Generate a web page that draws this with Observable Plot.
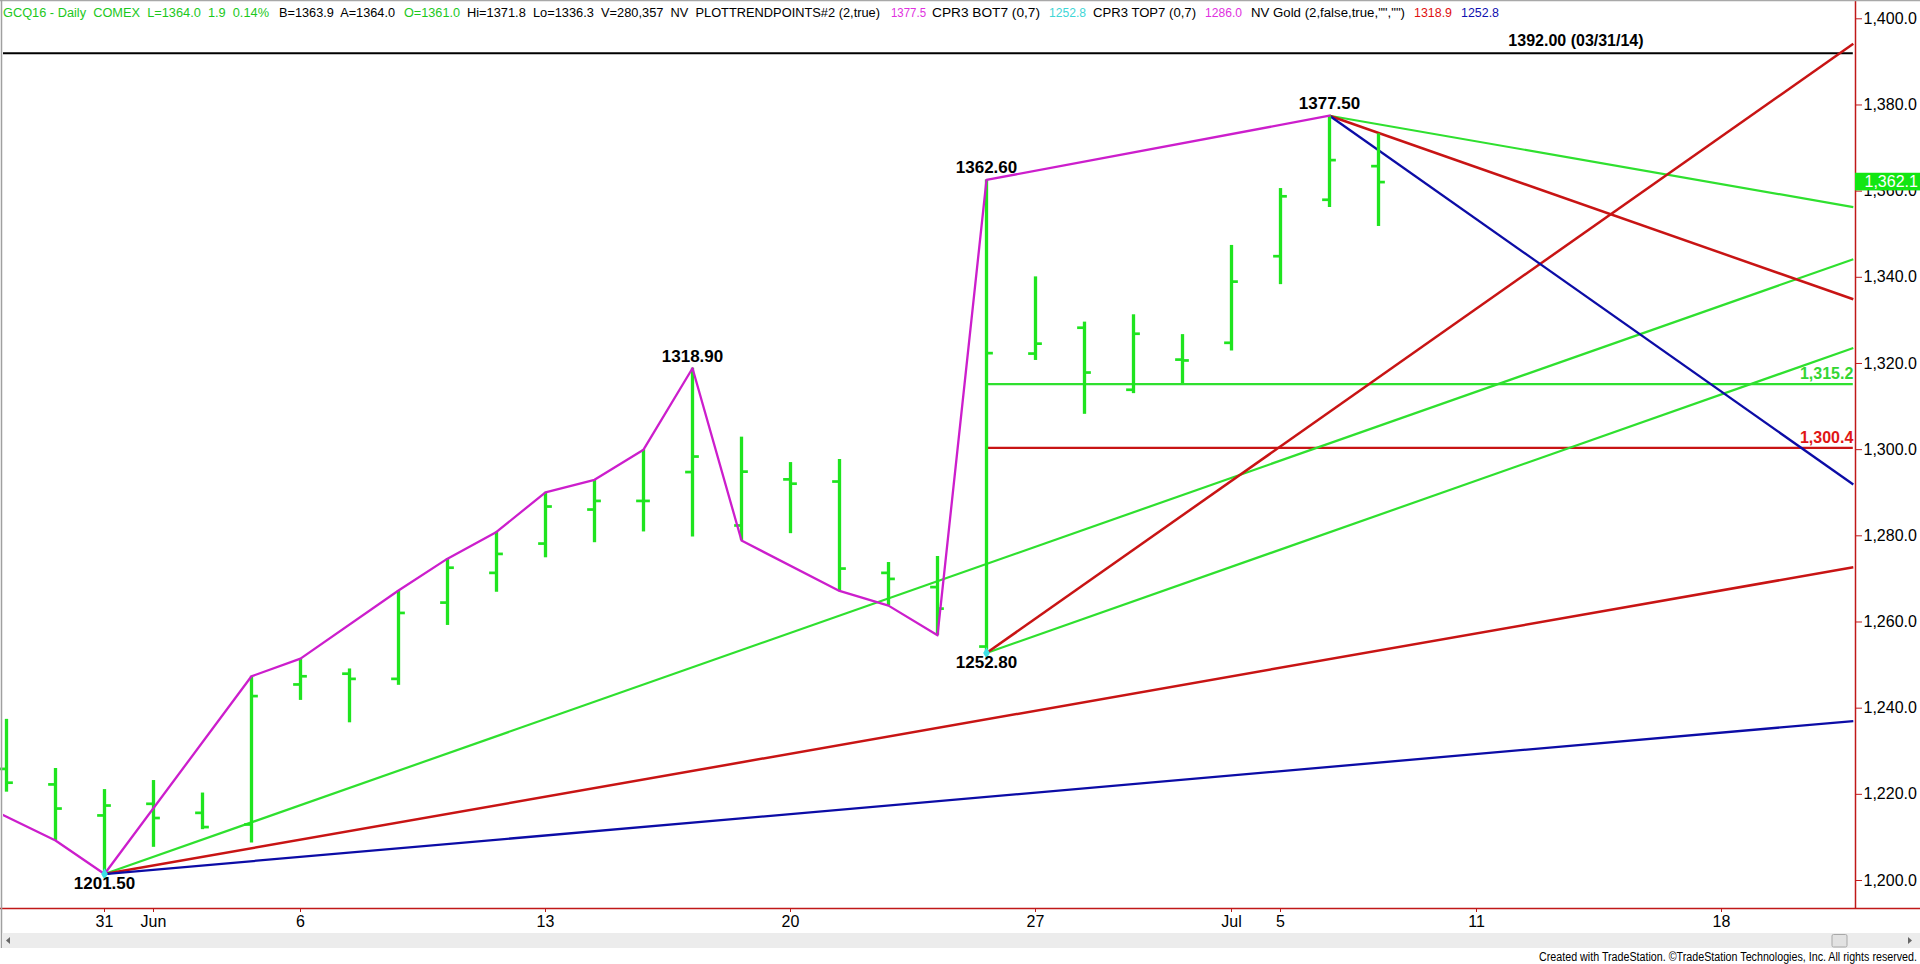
<!DOCTYPE html>
<html><head><meta charset="utf-8">
<script src="https://cdn.jsdelivr.net/npm/d3@7"></script>
<script src="https://cdn.jsdelivr.net/npm/@observablehq/plot@0.6"></script>
<style>
html,body{margin:0;padding:0;background:#fff;overflow:hidden;}
#chart{position:relative;width:1920px;height:964px;}
</style></head><body><div id="chart"></div>
<script>
// ---------------- DATA ----------------
// trading-day index (0 = May 26, 2016), holidays skipped
const dayIndex = [0,1,2,3,4,5,6,7,8,9,10,11,12,13,14,15,16,17,18,19,20,21,22,23,24,25,26,27,28];
const dayDates = ["05/26","05/27","05/31","06/01","06/02","06/03","06/06","06/07","06/08","06/09","06/10","06/13","06/14","06/15","06/16","06/17","06/20","06/21","06/22","06/23","06/24","06/27","06/28","06/29","06/30","07/01","07/05","07/06","07/07"];
const opens  = [1225.9,1222.3,1215.1,1217.8,1215.7,1213.0,1245.5,1248.0,1246.8,1264.5,1271.4,1278.2,1286.1,1288.1,1294.8,1282.4,1293.1,1292.6,1271.4,1268.1,1254.3,1322.3,1328.3,1313.9,1320.9,1324.8,1344.9,1358.0,1365.8];
const highs  = [1237.4,1226.0,1221.1,1223.2,1220.3,1247.4,1251.5,1249.1,1267.3,1274.7,1280.9,1290.1,1293.0,1300.0,1318.9,1302.9,1297.0,1297.7,1273.8,1275.2,1362.6,1340.1,1329.6,1331.3,1326.7,1347.4,1360.6,1377.5,1373.3];
const lows   = [1220.5,1209.3,1201.5,1207.7,1211.8,1208.7,1241.8,1236.6,1245.3,1259.2,1266.9,1274.9,1278.4,1280.9,1279.7,1278.9,1280.5,1267.2,1263.8,1256.9,1252.8,1320.7,1308.2,1313.0,1315.3,1322.9,1338.3,1356.2,1351.8];
const closes = [1222.7,1216.7,1217.4,1214.5,1212.4,1242.8,1247.4,1246.8,1262.1,1272.6,1275.8,1286.8,1288.1,1288.1,1298.4,1294.9,1292.1,1272.4,1270.0,1263.1,1322.4,1324.6,1317.9,1326.9,1320.7,1339.0,1358.8,1367.2,1362.1];

// PLOTTRENDPOINTS zig-zag pivots
const pivotIdx = [-1,1,2,5,6,8,9,10,11,12,13,14,15,17,18,19,20,27];
const pivotVal = [1220.3,1209.3,1201.5,1247.4,1251.5,1267.3,1274.7,1280.9,1290.1,1293.0,1300.0,1318.9,1278.9,1267.2,1263.8,1256.9,1362.6,1377.5];

// labelled swing points
const swingIdx = [2,14,20,20,27];
const swingVal = [1201.50,1318.90,1252.80,1362.60,1377.50];
const swingSide = ["below","above","below","above","above"];
const swingLows = [[2,1201.5],[20,1252.8]];

// trend / angle lines
const trendSeries   = ["green","red","blue","green","red","green","red","blue"];
const trendStartIdx = [2,2,2,20,20,27,27,27];
const trendStartVal = [1201.5,1201.5,1201.5,1252.8,1252.8,1377.5,1377.5,1377.5];
const trendEndIdx   = [37.69,37.69,37.69,37.69,37.69,37.69,37.69,37.69];
const trendEndVal   = [1344.2,1272.7,1237.0,1323.6,1394.2,1356.3,1334.9,1291.9];

// horizontal levels
const levelSeries = ["green","red"];
const levelVal = [1315.2,1300.4];
const levelLabel = ["1,315.2","1,300.4"];
const levelStartIdx = [20,20];
const levelEndIdx = [37.69,37.69];
const longLevel = 1392.00;
const longLevelLabel = "1392.00 (03/31/14)";
const lastPrice = 1362.1;

// axis ticks
const yTicks = [1200,1220,1240,1260,1280,1300,1320,1340,1360,1380,1400];
const xTickIdx = [2,3,6,11,16,21,25,26,30,35];
const xTickLabels = ["31","Jun","6","13","20","27","Jul","5","11","18"];

// header text
const headerParts = [
  ["GCQ16 - Daily  COMEX  L=1364.0  1.9  0.14%","green"],
  ["B=1363.9  A=1364.0","black"],
  ["O=1361.0","green"],
  ["Hi=1371.8  Lo=1336.3  V=280,357  NV  PLOTTRENDPOINTS#2 (2,true)","black"],
  ["1377.5","magenta"],
  ["CPR3 BOT7 (0,7)","black"],
  ["1252.8","cyan"],
  ["CPR3 TOP7 (0,7)","black"],
  ["1286.0","magenta"],
  ["NV Gold (2,false,true,\"\",\"\")","black"],
  ["1318.9","red"],
  ["1252.8","blue"]
];
const footerText = "Created with TradeStation. \u00A9TradeStation Technologies, Inc. All rights reserved.";

// ---------------- LAYOUT / STYLE ----------------
const W = 1920, H = 964, mL = 3, mR = 65, mT = 1, mB = 56;
const PX = 49, X0 = 6;              // px per trading day, px of index 0
const PY = 4.3085, Y1400 = 18.3;    // px per dollar, px of 1400
const xDomain = [(mL - X0) / PX, (W - mR - X0) / PX];
const yDomain = [1400 - (H - mB - Y1400) / PY, 1400 + (Y1400 - mT) / PY];

const palette = {green:"#2fe02f", red:"#c81414", blue:"#0c0ca6"};
const trendWidth = {green: 2.2, red: 2.5, blue: 2.3};
const labelColors = {green:"#33d633", red:"#e01515"};
const barGreen = "#1fe41f";
const magenta = "#cc1ecc";
const axisRed = "#c01818";
const headerColors = {green:"#1cc81c", black:"#000", magenta:"#e030e0", cyan:"#3ed6d6", red:"#e01010", blue:"#1010b0"};

const bars = dayIndex.map((i, k) => ({i, date: dayDates[k], o: opens[k], h: highs[k], l: lows[k], c: closes[k]}));
const pivots = pivotIdx.map((i, k) => ({i, v: pivotVal[k]}));
const swings = swingIdx.map((i, k) => ({i, v: swingVal[k], side: swingSide[k]}));
const trends = trendSeries.map((s, k) => ({s, x1: trendStartIdx[k], y1: trendStartVal[k], x2: trendEndIdx[k], y2: trendEndVal[k]}));
const levels = levelSeries.map((s, k) => ({s, v: levelVal[k], label: levelLabel[k], x1: levelStartIdx[k], x2: levelEndIdx[k]}));

const TICK = 0.14;
const font = "Arial, 'Liberation Sans', sans-serif";

const plot = Plot.plot({
  width: W, height: H,
  marginLeft: mL, marginRight: mR, marginTop: mT, marginBottom: mB,
  x: {type: "linear", domain: xDomain},
  y: {type: "linear", domain: yDomain},
  style: {fontFamily: font, fontSize: "16px", background: "#fff", color: "#000", overflow: "visible"},
  marks: [
    Plot.ruleY([longLevel], {x1: xDomain[0], x2: trendEndIdx[0], stroke: "#000", strokeWidth: 2}),
    Plot.ruleY(levels, {y: "v", x1: "x1", x2: "x2", stroke: d => palette[d.s], strokeWidth: 2.2}),
    ...["green", "red", "blue"].map(s =>
      Plot.link(trends.filter(d => d.s === s), {x1: "x1", y1: "y1", x2: "x2", y2: "y2", stroke: palette[s], strokeWidth: trendWidth[s]})),
    Plot.ruleX(bars, {x: "i", y1: "l", y2: "h", stroke: barGreen, strokeWidth: 3.3}),
    Plot.ruleY(bars, {y: "o", x1: d => d.i - TICK, x2: d => d.i, stroke: barGreen, strokeWidth: 2.7}),
    Plot.ruleY(bars, {y: "c", x1: d => d.i, x2: d => d.i + TICK, stroke: barGreen, strokeWidth: 2.7}),
    Plot.line(pivots, {x: "i", y: "v", stroke: magenta, strokeWidth: 2.3, clip: true}),
    Plot.dot(swingLows, {x: d => d[0], y: d => d[1], symbol: "diamond", r: 3.5, fill: "#3ee0e8", stroke: "none"}),
    Plot.text(swings, {x: "i", y: "v", text: d => d3.format(".2f")(d.v), fontWeight: "bold", fontSize: 17, fill: "#000",
      filter: d => d.side === "above", dy: -12}),
    Plot.text(swings, {x: "i", y: "v", text: d => d3.format(".2f")(d.v), fontWeight: "bold", fontSize: 17, fill: "#000",
      filter: d => d.side === "below", dy: 10}),
    Plot.text(levels, {x: "x2", y: "v", text: "label", textAnchor: "end", dy: -10.5, fontWeight: "bold", fontSize: 16, fill: d => labelColors[d.s]}),
    Plot.text([longLevel], {x: 33.41, y: d => d, text: () => longLevelLabel, textAnchor: "end", dy: -12.5, fontWeight: "bold", fontSize: 16, fill: "#000"}),
    Plot.axisY({anchor: "right", ticks: yTicks, tickSize: 6, tickPadding: 2, tickFormat: d3.format(",.1f"), stroke: axisRed, fill: "#000", label: null, fontSize: 16}),
    Plot.axisX({anchor: "bottom", ticks: xTickIdx, tickSize: 4, tickPadding: 3, tickFormat: d => xTickLabels[xTickIdx.indexOf(d)], stroke: axisRed, fill: "#000", label: null, fontSize: 16}),
    Plot.ruleX([xDomain[1]], {stroke: axisRed, strokeWidth: 1.5}),
    Plot.ruleY([yDomain[0]], {x1: xDomain[0] - mL / PX, x2: xDomain[1] + mR / PX, stroke: axisRed, strokeWidth: 1.5}),
    Plot.rect([lastPrice], {x1: xDomain[1], x2: xDomain[1] + mR / PX, y1: d => d - 2.05, y2: d => d + 2.05, fill: "#12e612"}),
    Plot.text([lastPrice], {x: xDomain[1], y: d => d, text: d => d3.format(",.1f")(d), textAnchor: "start", dx: 9, fill: "#fff", fontSize: 16})
  ]
});

const svg = d3.select(plot);
const g = svg.append("g").attr("font-family", font).attr("text-anchor", "start");
// frame borders
g.append("line").attr("x1", 0).attr("x2", W).attr("y1", 0.5).attr("y2", 0.5).attr("stroke", "#a8a8a8").attr("stroke-width", 1.5);
g.append("line").attr("x1", 1.5).attr("x2", 1.5).attr("y1", 0).attr("y2", 948).attr("stroke", "#a0a0a0").attr("stroke-width", 1.5);
// scrollbar
g.append("rect").attr("x", 2).attr("y", 933).attr("width", W - 2).attr("height", 15).attr("fill", "#ececec");
g.append("path").attr("d", "M10,937 L6,940.5 L10,944 Z").attr("fill", "#666");
g.append("path").attr("d", "M1908,937 L1912,940.5 L1908,944 Z").attr("fill", "#666");
g.append("rect").attr("x", 1832).attr("y", 934.5).attr("width", 15).attr("height", 12.5).attr("fill", "#e2e2e2").attr("stroke", "#a8a8a8").attr("rx", 1.5);
// header
const headerSpans = [[3,269],[279,395],[404,460],[467,880],[891,926],[932,1040],[1049,1086],[1093,1196],[1205,1242],[1251,1405],[1414,1452],[1461,1499]];
headerParts.forEach(([t, c], k) => {
  g.append("text").attr("x", headerSpans[k][0]).attr("y", 16.5)
    .attr("text-anchor", "start")
    .attr("font-size", 12).attr("fill", headerColors[c])
    .attr("textLength", headerSpans[k][1] - headerSpans[k][0]).attr("lengthAdjust", "spacingAndGlyphs")
    .style("white-space", "pre").text(t);
});
// footer
g.append("text").attr("x", 1539).attr("y", 961).attr("text-anchor", "start").attr("font-size", 12).attr("fill", "#000")
  .attr("textLength", 378).attr("lengthAdjust", "spacingAndGlyphs").text(footerText);

document.getElementById("chart").appendChild(plot);
</script>
</body></html>
